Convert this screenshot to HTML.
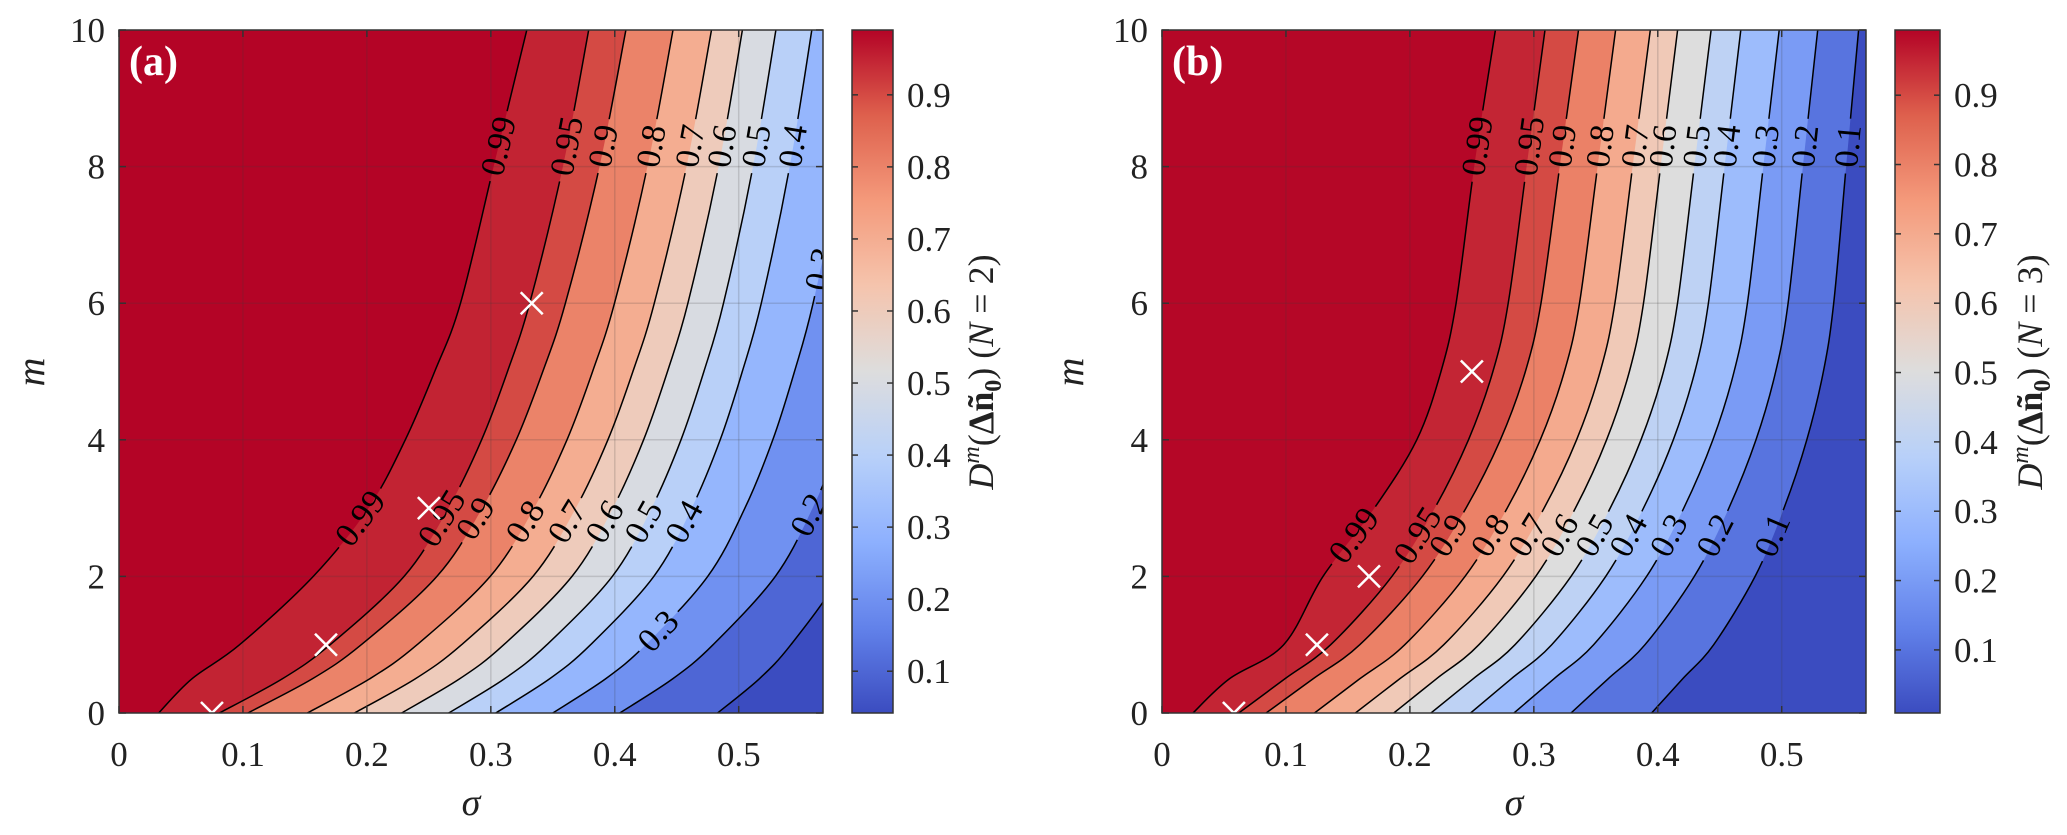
<!DOCTYPE html>
<html><head><meta charset="utf-8">
<style>
html,body{margin:0;padding:0;background:#fff;}
svg{display:block;font-family:"Liberation Serif",serif;}
</style></head>
<body>
<svg id="fig" width="2067" height="835" viewBox="0 0 2067 835" xmlns="http://www.w3.org/2000/svg"></svg>
<script>
// ---- data ----
const sigmaTicks = [0, 0.1, 0.2, 0.3, 0.4, 0.5];
const sigmaTickText = ['0', '0.1', '0.2', '0.3', '0.4', '0.5'];
const mTicks = [0, 2, 4, 6, 8, 10];
const mTickText = ['0', '2', '4', '6', '8', '10'];
const cbTicks = [0.1, 0.2, 0.3, 0.4, 0.5, 0.6, 0.7, 0.8, 0.9];
const cbTickText = ['0.1', '0.2', '0.3', '0.4', '0.5', '0.6', '0.7', '0.8', '0.9'];
const levels = [0.99, 0.95, 0.9, 0.8, 0.7, 0.6, 0.5, 0.4, 0.3, 0.2, 0.1];
const levelText = ['0.99', '0.95', '0.9', '0.8', '0.7', '0.6', '0.5', '0.4', '0.3', '0.2', '0.1'];
const aSigmaAtM0 = [0.032, 0.081, 0.104, 0.152, 0.19, 0.228, 0.266, 0.304, 0.35, 0.404, 0.483];
const aSigmaAtM10 = [0.329, 0.379, 0.409, 0.447, 0.478, 0.503, 0.530, 0.559, 0.60, 0.655, 0.68];
const bSigmaAtM0 = [0.025, 0.062, 0.084, 0.123, 0.156, 0.187, 0.217, 0.249, 0.284, 0.33, 0.395];
const bSigmaAtM10 = [0.269, 0.309, 0.336, 0.366, 0.394, 0.416, 0.443, 0.467, 0.498, 0.529, 0.562];
const profileM = [0, 0.5, 1, 2, 3, 4, 5, 6, 8, 10];
const aProfileInner = [0, 0.09, 0.22, 0.42, 0.57, 0.67, 0.75, 0.82, 0.91, 1];
const aProfileOuter = [0, 0.17, 0.30, 0.50, 0.62, 0.71, 0.78, 0.84, 0.93, 1];
const bProfileInner = [0, 0.12, 0.30, 0.43, 0.60, 0.74, 0.82, 0.87, 0.93, 1];
const bProfileOuter = [0, 0.15, 0.30, 0.50, 0.64, 0.75, 0.83, 0.88, 0.94, 1];
const aUpperLabelM = [8.3, 8.3, 8.3, 8.3, 8.3, 8.3, 8.3, 8.3, 6.5, 2.9, null];
const aLowerLabelM = [2.85, 2.85, 2.85, 2.8, 2.8, 2.8, 2.8, 2.8, 1.2, null, null];
const bUpperLabelM = [8.3, 8.3, 8.3, 8.3, 8.3, 8.3, 8.3, 8.3, 8.3, 8.3, 8.3];
const bLowerLabelM = [2.6, 2.6, 2.6, 2.6, 2.6, 2.6, 2.6, 2.6, 2.6, 2.6, 2.6];
const aMarkSigma = [0.075, 0.167, 0.25, 0.333];
const aMarkM = [0, 1, 3, 6];
const bMarkSigma = [0.058, 0.125, 0.167, 0.25];
const bMarkM = [0, 1, 2, 5];
const aCmin = 0.042, aCmax = 0.99;
const bCmin = 0.009, bCmax = 0.994;

// ---- helpers ----
const NS = 'http://www.w3.org/2000/svg';
const svg = document.getElementById('fig');
function mk(tag, attrs, parent) {
  const e = document.createElementNS(NS, tag);
  for (const k in attrs) e.setAttribute(k, attrs[k]);
  (parent || svg).appendChild(e);
  return e;
}
const cw = [[0,59,76,192],[0.125,98,130,234],[0.25,141,176,254],[0.375,184,208,249],[0.5,221,221,221],[0.625,245,196,173],[0.75,244,154,123],[0.875,222,96,77],[1,180,4,38]];
function coolwarm(t) {
  t = Math.max(0, Math.min(1, t));
  for (let i = 1; i < cw.length; i++) {
    if (t <= cw[i][0]) {
      const a = cw[i-1], b = cw[i], f = (t - a[0]) / (b[0] - a[0]);
      return 'rgb(' + [1,2,3].map(j => Math.round(a[j] + (b[j]-a[j])*f)).join(',') + ')';
    }
  }
  return 'rgb(180,4,38)';
}
function interp(xs, ys, x) {
  if (x <= xs[0]) return ys[0];
  for (let i = 1; i < xs.length; i++) if (x <= xs[i]) {
    const f = (x - xs[i-1]) / (xs[i] - xs[i-1]); return ys[i-1] + (ys[i]-ys[i-1])*f;
  }
  return ys[ys.length-1];
}
function crPath(pts) {
  let d = 'M' + pts[0][0].toFixed(1) + ',' + pts[0][1].toFixed(1);
  for (let i = 0; i < pts.length - 1; i++) {
    const p0 = pts[Math.max(0,i-1)], p1 = pts[i], p2 = pts[i+1], p3 = pts[Math.min(pts.length-1,i+2)];
    const c1 = [p1[0] + (p2[0]-p0[0])/6, p1[1] + (p2[1]-p0[1])/6];
    const c2 = [p2[0] - (p3[0]-p1[0])/6, p2[1] - (p3[1]-p1[1])/6];
    d += ' C' + c1[0].toFixed(1) + ',' + c1[1].toFixed(1) + ' ' + c2[0].toFixed(1) + ',' + c2[1].toFixed(1) + ' ' + p2[0].toFixed(1) + ',' + p2[1].toFixed(1);
  }
  return d;
}

function panel(cfg) {
  const L = cfg.left, R = cfg.right, T = 30, B = 713, smax = 0.568;
  const X = s => L + s / smax * (R - L);
  const Y = m => B - m / 10 * (B - T);
  const g = mk('g', {}, svg);
  
  
  const clipId = 'clip-' + cfg.id;
  const cp = mk('clipPath', {id: clipId}, g);
  mk('rect', {x: L, y: T, width: R - L, height: B - T}, cp);
  const maskId = 'mask-' + cfg.id;
  const mask = mk('mask', {id: maskId, maskUnits: 'userSpaceOnUse', x: 0, y: 0, width: 2067, height: 835}, g);
  mk('rect', {x: 0, y: 0, width: 2067, height: 835, fill: '#fff'}, mask);
  const plot = mk('g', {'clip-path': 'url(#' + clipId + ')'}, g);
  
  
  const col = v => coolwarm((v - cfg.cmin) / (cfg.cmax - cfg.cmin));
  mk('rect', {x: L, y: T, width: R - L, height: B - T, fill: col(levels[0])}, plot);
  const sigmaAt = (i, m) => {
    const prof = i === 0 ? cfg.profInner : cfg.profOuter;
    return cfg.s0[i] + (cfg.s10[i] - cfg.s0[i]) * interp(profileM, prof, m);
  };
  const curves = [];
  levels.forEach((lv, i) => {
    const pts = profileM.map(m => [X(sigmaAt(i, m)), Y(m)]);
    curves.push(pts);
    const lower = i + 1 < levels.length ? levels[i+1] : cfg.cmin;
    const d = crPath(pts) + ' L' + (R + 400) + ',' + Y(10) + ' L' + (R + 400) + ',' + Y(0) + ' Z';
    const band = mk('path', {d: d, fill: col(lower)}, plot);
    
    
  });
  sigmaTicks.forEach(s => { if (s > 0) mk('line', {x1: X(s), x2: X(s), y1: T, y2: B, stroke: 'rgba(60,60,60,0.18)', 'stroke-width': 1.5}, plot); });
  mTicks.forEach(m => { if (m > 0 && m < 10) mk('line', {x1: L, x2: R, y1: Y(m), y2: Y(m), stroke: 'rgba(60,60,60,0.18)', 'stroke-width': 1.5}, plot); });
  const lineGroup = mk('g', {mask: 'url(#' + maskId + ')'}, plot);
  curves.forEach((pts, i) => {
    const ln = mk('path', {d: crPath(pts), fill: 'none', stroke: '#000', 'stroke-width': 1.5}, lineGroup);
    
    
  });
  const FS = 34;
  const putLabel = (i, m) => {
    const x = X(sigmaAt(i, m)), y = Y(m);
    const x2 = X(sigmaAt(i, m + 0.25)), y2 = Y(m + 0.25), x1 = X(sigmaAt(i, m - 0.25)), y1 = Y(m - 0.25);
    const ang = Math.atan2(y2 - y1, x2 - x1) * 180 / Math.PI;
    const rot = 'rotate(' + ang.toFixed(1) + ' ' + x.toFixed(1) + ' ' + y.toFixed(1) + ')';
    const w = levelText[i].length * FS * 0.5 + 4;
    mk('rect', {x: x - w / 2, y: y - 12, width: w, height: 24, fill: '#000', transform: rot}, mask);
    const t = mk('text', {x: x, y: y + 11, 'font-size': FS, 'text-anchor': 'middle', fill: '#000', transform: rot}, plot);
    t.textContent = levelText[i];
    
    
  };
  cfg.upper.forEach((m, i) => { if (m !== null) putLabel(i, m); });
  cfg.lower.forEach((m, i) => { if (m !== null) putLabel(i, m); });
  cfg.markS.forEach((s, k) => {
    const x = X(s), y = Y(cfg.markM[k]), r = 11;
    const mg = mk('g', {stroke: '#fff', 'stroke-width': 2.5}, plot);
    
    
    mk('line', {x1: x - r, y1: y - r, x2: x + r, y2: y + r}, mg);
    mk('line', {x1: x - r, y1: y + r, x2: x + r, y2: y - r}, mg);
  });
  const tag = mk('text', {x: L + 10, y: T + 45, 'font-size': 42, 'font-weight': 'bold', fill: '#fff'}, g);
  tag.textContent = cfg.tag;
  
  
  mk('rect', {x: L, y: T, width: R - L, height: B - T, fill: 'none', stroke: '#333', 'stroke-width': 1.5}, g);
  sigmaTicks.forEach((s, k) => {
    mk('line', {x1: X(s), x2: X(s), y1: B, y2: B - 7, stroke: '#333', 'stroke-width': 1.5}, g);
    mk('line', {x1: X(s), x2: X(s), y1: T, y2: T + 7, stroke: '#333', 'stroke-width': 1.5}, g);
    const t = mk('text', {x: X(s), y: 766, 'font-size': 35, 'text-anchor': 'middle', fill: '#222'}, g);
    t.textContent = sigmaTickText[k];
    
    
  });
  mTicks.forEach((m, k) => {
    mk('line', {x1: L, x2: L + 7, y1: Y(m), y2: Y(m), stroke: '#333', 'stroke-width': 1.5}, g);
    mk('line', {x1: R, x2: R - 7, y1: Y(m), y2: Y(m), stroke: '#333', 'stroke-width': 1.5}, g);
    const t = mk('text', {x: L - 14, y: Y(m) + 12, 'font-size': 35, 'text-anchor': 'end', fill: '#222'}, g);
    t.textContent = mTickText[k];
    
    
  });
  const xl = mk('text', {x: (L + R) / 2, y: 815, 'font-size': 38, 'font-style': 'italic', 'text-anchor': 'middle', fill: '#222'}, g);
  xl.textContent = 'σ';
  
  
  const yl = mk('text', {x: cfg.mLabelX, y: 372, 'font-size': 40, 'font-style': 'italic', 'text-anchor': 'middle', fill: '#222',
    transform: 'rotate(-90 ' + cfg.mLabelX + ' 372)'}, g);
  yl.textContent = 'm';
  
  
  const cbL = cfg.cbLeft, cbR = cfg.cbRight;
  const gid = 'grad-' + cfg.id;
  const lg = mk('linearGradient', {id: gid, x1: 0, y1: 1, x2: 0, y2: 0}, g);
  for (let k = 0; k <= 40; k++) mk('stop', {offset: k / 40, 'stop-color': coolwarm(k / 40)}, lg);
  const cb = mk('rect', {x: cbL, y: T, width: cbR - cbL, height: B - T, fill: 'url(#' + gid + ')', stroke: '#333', 'stroke-width': 1.5}, g);
  
  
  const CY = v => B - (v - cfg.cmin) / (cfg.cmax - cfg.cmin) * (B - T);
  cbTicks.forEach((v, k) => {
    mk('line', {x1: cbR, x2: cbR - 6, y1: CY(v), y2: CY(v), stroke: '#333', 'stroke-width': 1.5}, g);
    mk('line', {x1: cbL, x2: cbL + 6, y1: CY(v), y2: CY(v), stroke: '#333', 'stroke-width': 1.5}, g);
    const t = mk('text', {x: cbR + 14, y: CY(v) + 12, 'font-size': 35, fill: '#222'}, g);
    t.textContent = cbTickText[k];
    
    
  });
  const ct = mk('text', {x: cfg.cbTitleX, y: 372, 'font-size': 36, 'text-anchor': 'middle', fill: '#222',
    transform: 'rotate(-90 ' + cfg.cbTitleX + ' 372)'}, g);
  
  
  ct.innerHTML = '<tspan font-style="italic">D</tspan><tspan font-style="italic" font-size="24" dy="-14">m</tspan><tspan dy="14">(</tspan><tspan font-weight="bold">Δñ</tspan><tspan font-weight="bold" font-size="24" dy="8">0</tspan><tspan dy="-8">)  (</tspan><tspan font-style="italic">N</tspan><tspan> = ' + cfg.N + ')</tspan>';
}

panel({id: 'a', tag: '(a)', left: 119, right: 823, cmin: aCmin, cmax: aCmax, s0: aSigmaAtM0, s10: aSigmaAtM10,
  profInner: aProfileInner, profOuter: aProfileOuter, upper: aUpperLabelM, lower: aLowerLabelM,
  markS: aMarkSigma, markM: aMarkM, mLabelX: 44, cbLeft: 852, cbRight: 893, cbTitleX: 993, N: 2});
panel({id: 'b', tag: '(b)', left: 1162, right: 1866, cmin: bCmin, cmax: bCmax, s0: bSigmaAtM0, s10: bSigmaAtM10,
  profInner: bProfileInner, profOuter: bProfileOuter, upper: bUpperLabelM, lower: bLowerLabelM,
  markS: bMarkSigma, markM: bMarkM, mLabelX: 1083, cbLeft: 1895, cbRight: 1940, cbTitleX: 2042, N: 3});
</script>
</body></html>
